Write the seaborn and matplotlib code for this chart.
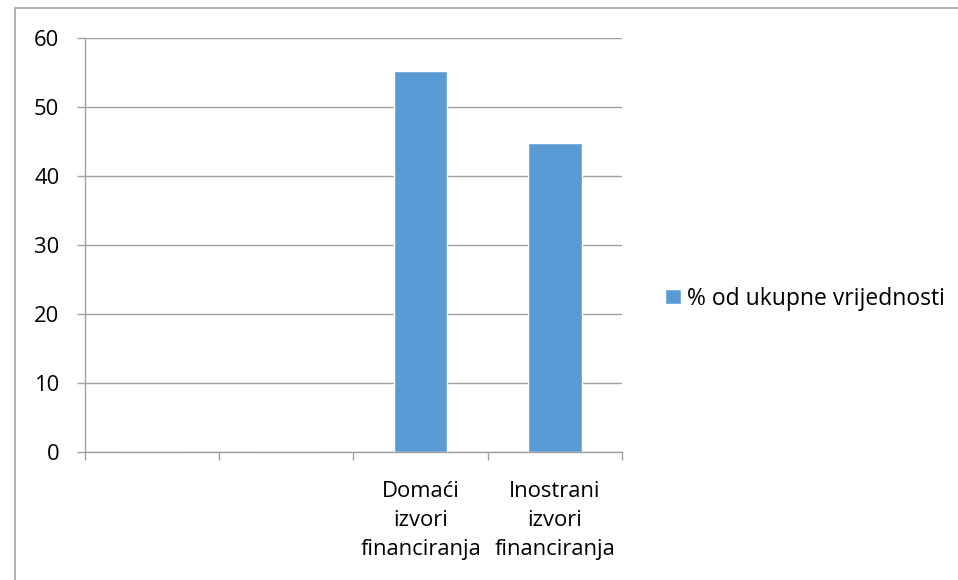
import matplotlib
matplotlib.use("Agg")
import matplotlib.pyplot as plt
import seaborn as sns
import pandas as pd
from matplotlib.lines import Line2D

categories = ["", " ", "Domaći\nizvori\nfinanciranja", "Inostrani\nizvori\nfinanciranja"]
values = [0, 0, 55.2, 44.8]
series_name = "% od ukupne vrijednosti"
yticks = [0, 10, 20, 30, 40, 50, 60]

sns.set_theme(style="white")
plt.rcParams['font.family'] = ['Open Sans', 'DejaVu Sans']
plt.rcParams['text.color'] = "#000000"

FS = 15.8

df = pd.DataFrame({"cat": categories, "val": values, "series": series_name})

fig = plt.figure(figsize=(9.58, 5.80), dpi=100)
ax = fig.add_axes([85/958, 1-452/580, (622-85)/958, (452-37.5)/580])

sns.barplot(data=df, x="cat", y="val", hue="series", palette=["#5B9BD5"],
            width=0.4, ax=ax, saturation=1, legend=True)

ax.set_ylim(0, 60)
ax.set_xlim(-0.5, 3.5)
ax.set_yticks(yticks)
ax.set_yticklabels([str(t) for t in yticks], fontsize=FS, color="#000000")
ax.set_xticks([-0.5, 0.5, 1.5, 2.5, 3.5], minor=False)
ax.set_xticklabels([])
ax.set_xticks([0, 1, 2, 3], minor=True)
ax.set_xticklabels(categories, minor=True, fontsize=FS, color="#000000", linespacing=1.5)
ax.tick_params(axis="x", which="minor", length=0, pad=21)
ax.tick_params(axis="x", which="major", length=6, width=1, color="#A0A0A0", direction="out", bottom=True)
ax.tick_params(axis="y", length=6, width=1, color="#A0A0A0", direction="out", left=True, pad=12.5)
ax.set_xlabel("")
ax.set_ylabel("")
ax.yaxis.grid(True, color="#A0A0A0", linewidth=1)
ax.set_axisbelow(True)
for s in ["top", "right"]:
    ax.spines[s].set_visible(False)
for s in ["left", "bottom"]:
    ax.spines[s].set_color("#A0A0A0")
    ax.spines[s].set_linewidth(1)

leg = ax.legend(loc="center left", bbox_to_anchor=(1.08, 0.37), frameon=False,
                fontsize=16.5, handlelength=0.68, handleheight=0.68, handletextpad=0.3,
                borderpad=0, borderaxespad=0)
for t in leg.get_texts():
    t.set_color("#000000")

# outer border (top and left edges visible in the reference)
fig.add_artist(Line2D([15/958, 1.0], [1-7.5/580, 1-7.5/580], transform=fig.transFigure,
                      color="#A6A6A6", linewidth=1.2))
fig.add_artist(Line2D([15/958, 15/958], [0.0, 1-7.5/580], transform=fig.transFigure,
                      color="#A6A6A6", linewidth=1.2))

fig.savefig("out.png", dpi=100)
